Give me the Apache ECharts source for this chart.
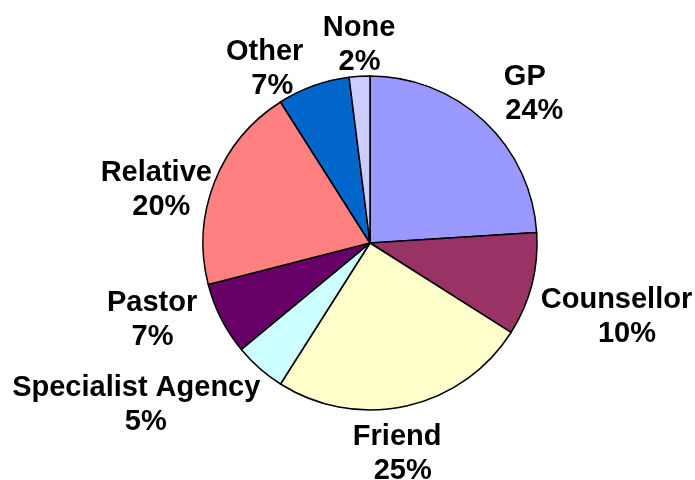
<!DOCTYPE html>
<html>
<head>
<meta charset="utf-8">
<script src="https://cdn.jsdelivr.net/npm/echarts@6/dist/echarts.min.js"></script>
<style>
  html, body { margin: 0; padding: 0; background: #ffffff; }
  #chart { width: 695px; height: 480px; }
</style>
</head>
<body>
<div id="chart"></div>
<script>
// Where people turned for help (share of responses)
const categories = ['GP', 'Counsellor', 'Friend', 'Specialist Agency', 'Pastor', 'Relative', 'Other', 'None'];
const shares = [24, 10, 25, 5, 7, 20, 7, 2];
const sliceColors = ['#9999FF', '#993366', '#FFFFCC', '#CCFFFF', '#660066', '#FF8080', '#0066CC', '#CCCCFF'];

// Pie geometry (pixels)
const CX = 370, CY = 243, R = 167, LABEL_DIST = 175;

// Label box centre relative to the point on each slice's bisector at LABEL_DIST
const labelOffsets = [[35, -21], [77, 30], [-11, 40], [-118, 31], [-62, -2], [-51, 11], [-46, -9], [0, -23]];
// Extra left padding on the percentage line (the second line sits a little right)
const pctIndent = [19, 21, 11, 19, 1, 10, 15, 1];

const total = shares.reduce((a, b) => a + b, 0);
const before = shares.map((_, i) => shares.slice(0, i).reduce((a, b) => a + b, 0));

const chart = echarts.init(document.getElementById('chart'), null, { renderer: 'canvas' });

const textStyle = {
  fontFamily: 'Arial, "Liberation Sans", sans-serif',
  fontWeight: 'bold',
  fontSize: 29,
  lineHeight: 34,
  color: '#000000'
};

chart.setOption({
  backgroundColor: '#ffffff',
  animation: false,
  series: [{
    type: 'pie',
    center: [CX, CY],
    radius: R,
    startAngle: 90,
    clockwise: true,
    avoidLabelOverlap: false,
    data: categories.map((name, i) => ({
      name: name,
      value: shares[i],
      itemStyle: { color: sliceColors[i] },
      label: {
        rich: {
          n: Object.assign({}, textStyle),
          p: Object.assign({ padding: [0, 0, 0, pctIndent[i]] }, textStyle)
        }
      }
    })),
    itemStyle: { borderColor: '#000000', borderWidth: 1.5 },
    emphasis: { disabled: true },
    label: Object.assign({
      show: true,
      position: 'outside',
      formatter: (p) => '{n|' + p.name + '}\n{p|' + p.value + '%}',
      align: 'center'
    }, textStyle),
    labelLine: { show: false },
    labelLayout: function (params) {
      const i = params.dataIndex;
      const mid = (before[i] + shares[i] / 2) / total * 2 * Math.PI;
      const dx = Math.sin(mid), dy = -Math.cos(mid);
      return {
        x: CX + LABEL_DIST * dx + labelOffsets[i][0],
        y: CY + LABEL_DIST * dy + labelOffsets[i][1],
        align: 'center',
        verticalAlign: 'middle'
      };
    }
  }]
});
</script>
</body>
</html>
